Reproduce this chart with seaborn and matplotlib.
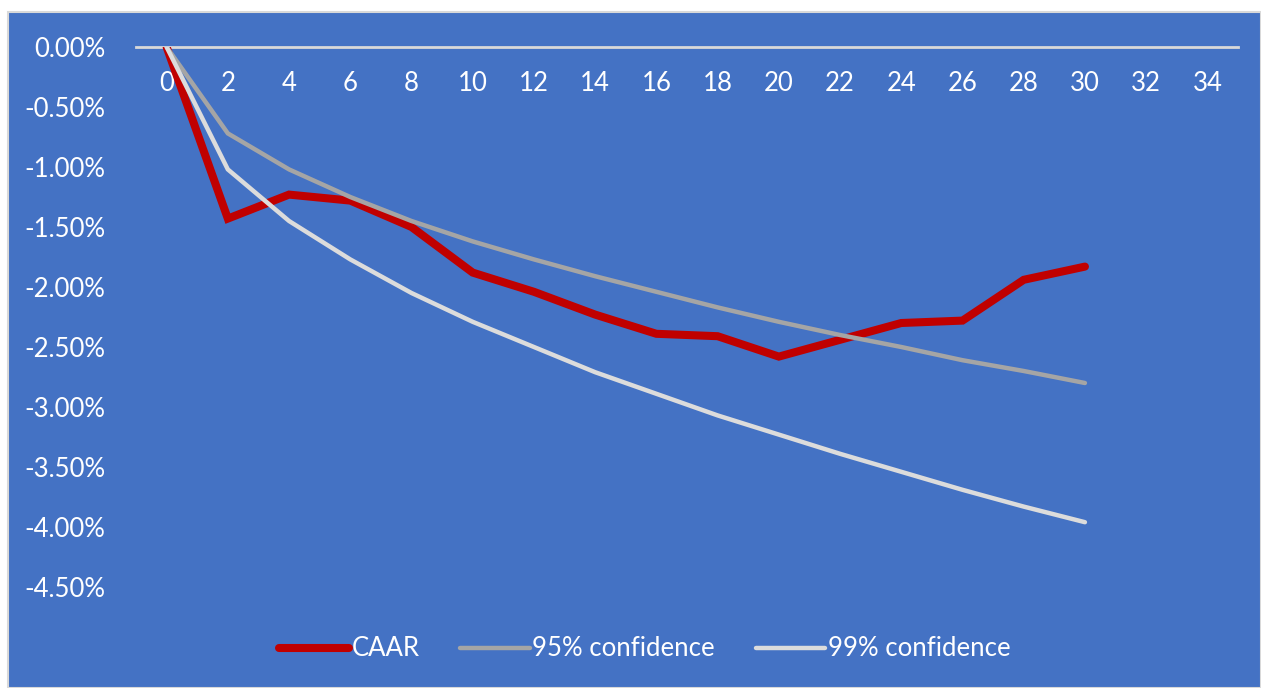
import matplotlib
matplotlib.use('Agg')
import matplotlib.pyplot as plt
from matplotlib.patches import Rectangle
from matplotlib.ticker import FuncFormatter
import seaborn as sns
import pandas as pd

# 데이터 (그림에서 읽은 값, 단위 %)
days = [0, 2, 4, 6, 8, 10, 12, 14, 16, 18, 20, 22, 24, 26, 28, 30]
caar = [0.00, -1.43, -1.23, -1.28, -1.50, -1.88, -2.04, -2.23, -2.39, -2.41,
        -2.58, -2.44, -2.30, -2.28, -1.94, -1.83]
conf95 = [0.00, -0.72, -1.02, -1.25, -1.45, -1.62, -1.77, -1.91, -2.04, -2.17,
          -2.29, -2.40, -2.50, -2.61, -2.70, -2.80]
conf99 = [0.00, -1.02, -1.45, -1.77, -2.05, -2.29, -2.50, -2.71, -2.89, -3.07,
          -3.23, -3.39, -3.54, -3.69, -3.83, -3.96]
x_ticks = list(range(0, 35, 2))
y_ticks = [0.0, -0.5, -1.0, -1.5, -2.0, -2.5, -3.0, -3.5, -4.0, -4.5]

series_names = ['CAAR', '95% confidence', '99% confidence']
series_colors = ['#C00000', '#A5A5A5', '#DCDCDC']
series_widths = [5.8, 3.2, 3.2]

BLUE = '#4472C4'

sns.set_style('white')
plt.rcParams['font.family'] = ['Lato', 'DejaVu Sans']
plt.rcParams['axes.unicode_minus'] = False

fig = plt.figure(figsize=(12.61, 6.88), dpi=100, facecolor='white')
# 차트 영역 배경 (파란색 + 연한 테두리)
fig.patches.append(Rectangle((8 / 1261, 0), 1 - 8 / 1261, 1 - 12 / 688,
                             transform=fig.transFigure, facecolor=BLUE,
                             edgecolor='#D9D9D9', linewidth=1.5, zorder=-10))

ax = fig.add_axes([136 / 1261, 1 - 587 / 688, (1238 - 136) / 1261, (587 - 47) / 688])
ax.set_facecolor('none')

df = pd.DataFrame({'day': days, 'CAAR': caar,
                   '95% confidence': conf95, '99% confidence': conf99})

for name, color, lw in zip(series_names, series_colors, series_widths):
    sns.lineplot(data=df, x='day', y=name, ax=ax, color=color, linewidth=lw,
                 label=name, solid_capstyle='round', solid_joinstyle='miter')

ax.set_xlim(-1, 35)
ax.set_ylim(-4.5, 0)
ax.set_xticks(x_ticks)
ax.set_yticks(y_ticks)
ax.yaxis.set_major_formatter(FuncFormatter(lambda v, p: f'{v:.2f}%'))
ax.set_xlabel('')
ax.set_ylabel('')

for side in ['top', 'left', 'right']:
    ax.spines[side].set_visible(False)
ax.spines['bottom'].set_position(('data', 0))
ax.spines['bottom'].set_color('#D9D9D9')
ax.spines['bottom'].set_linewidth(2)
ax.spines['bottom'].set_zorder(1)

ax.tick_params(axis='x', length=0, pad=17, labelsize=18.5, labelcolor='white')
ax.tick_params(axis='y', length=0, pad=22, labelsize=18.5, labelcolor='white')

ax.get_legend().remove()
handles, labels = ax.get_legend_handles_labels()
fig.legend(handles, labels, loc='center', ncol=3, frameon=False,
           bbox_to_anchor=(645 / 1261, 1 - 649 / 688), fontsize=18.5,
           labelcolor='white', handlelength=2.7, handletextpad=0.1,
           columnspacing=1.6)

plt.savefig('out.png', dpi=100, facecolor=fig.get_facecolor())
plt.close()
